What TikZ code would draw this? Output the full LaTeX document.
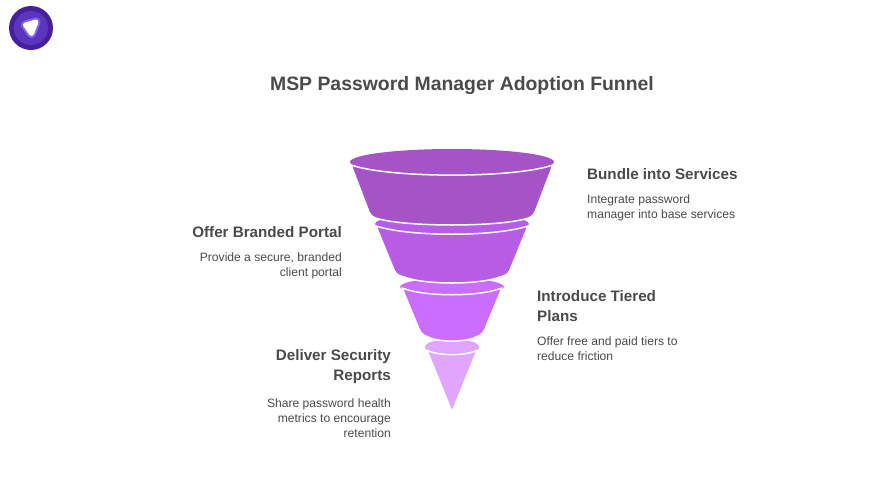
\documentclass[tikz,border=0pt]{standalone}
\usepackage{fontspec}
\setmainfont{Liberation Sans}
\definecolor{stageA}{HTML}{A454C6}
\definecolor{stageB}{HTML}{B75DE5}
\definecolor{stageC}{HTML}{CB6DFF}
\definecolor{stageD}{HTML}{E0A6FF}
\definecolor{inktext}{HTML}{4A4A4A}
\definecolor{logoA}{HTML}{46209A}
\definecolor{logoB}{HTML}{5A35BE}
\definecolor{logoC}{HTML}{8064F0}
\tikzset{
  stagebody/.style={draw=white, line width=1.5pt, line join=round},
  heading/.style={inner sep=0, text=inktext, font=\fontsize{15.2}{20}\selectfont\bfseries},
  blurb/.style={inner sep=0, text=inktext, font=\fontsize{12.1}{15}\selectfont},
}
\begin{document}
\begin{tikzpicture}[x=1pt, y=-1pt]
  \useasboundingbox (0,0) rectangle (876,493);

  % logo
  \fill[logoA] (31,28) circle (22);
  \fill[logoB] (31,28) circle (17);
  \filldraw[logoC, line width=9pt, line join=round] (25.5,25) -- (36,22) -- (31.5,33.5) -- cycle;
  \filldraw[white, line width=5pt, line join=round] (25.5,25) -- (36,22) -- (31.5,33.5) -- cycle;

  \node[font=\fontsize{19.4}{24}\selectfont\bfseries, text=inktext, inner sep=0] (title) at (462,85.5) {MSP Password Manager Adoption Funnel};

  % bottom stage first
  \fill[stageD] (452,347) ellipse (27 and 8);
  \filldraw[stagebody, fill=stageD] (427,350.5) .. controls (440,356) and (464,356) .. (477,350.5) -- (452,412) -- cycle;

  \fill[stageC] (452,287) ellipse (52 and 9);
  \filldraw[stagebody, fill=stageC] (402,288) .. controls (425,297) and (479,297) .. (502,288)
    -- (485,329) .. controls (483,333.5) and (481,335) .. (476,337)
    .. controls (464,342.5) and (440,342.5) .. (428,337)
    .. controls (423,335) and (421,333.5) .. (419,329) -- cycle;

  \fill[stageB] (452,224) ellipse (77 and 11);
  \filldraw[stagebody, fill=stageB] (376,226) .. controls (410,237) and (494,237) .. (528,226)
    -- (510,270) .. controls (508,274) and (506,275.5) .. (500,277)
    .. controls (479,285) and (425,285) .. (404,277)
    .. controls (398,275.5) and (396,274) .. (394,270) -- cycle;

  \fill[stageA] (452,162) ellipse (102 and 13);
  \filldraw[stagebody, fill=stageA] (351,165) .. controls (390,178.5) and (514,178.5) .. (553,165)
    -- (535,212) .. controls (533,216) and (531,217.5) .. (525,219)
    .. controls (495,227) and (409,227) .. (379,219)
    .. controls (373,217.5) and (371,216) .. (369,212) -- cycle;

  % labels
  \node[heading, anchor=west] (bundle) at (587,174) {Bundle into Services};
  \node[blurb, anchor=north west, align=left] (bundletext) at (587,195) {Integrate password\\manager into base services};

  \node[heading, anchor=east] (portal) at (342,232.5) {Offer Branded Portal};
  \node[blurb, anchor=north east, align=right] (portaltext) at (342,253) {Provide a secure, branded\\client portal};

  \node[heading, anchor=north west, align=left] (tiered) at (537,290) {Introduce Tiered\\Plans};
  \node[blurb, anchor=north west, align=left] (tieredtext) at (537,337) {Offer free and paid tiers to\\reduce friction};

  \node[heading, anchor=north east, align=right] (reports) at (391,349) {Deliver Security\\Reports};
  \node[blurb, anchor=north east, align=right] (reportstext) at (391,399) {Share password health\\metrics to encourage\\retention};
\end{tikzpicture}
\end{document}
